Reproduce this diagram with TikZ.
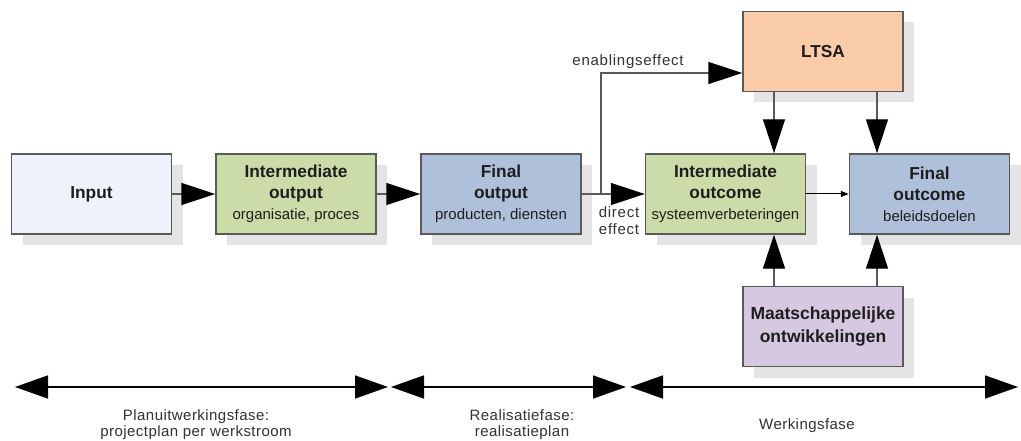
\documentclass[tikz,border=0pt]{standalone}
\usepackage{fontspec}
\setmainfont{Liberation Sans}
\newfontfamily\spacedfont[LetterSpace=3]{Liberation Sans}
\newfontfamily\widefont[LetterSpace=5]{Liberation Sans}
\usetikzlibrary{arrows.meta,shadows,positioning}
\definecolor{cinput}{RGB}{238,242,250}
\definecolor{cgreen}{RGB}{204,220,168}
\definecolor{cblue}{RGB}{175,193,218}
\definecolor{corange}{RGB}{249,203,167}
\definecolor{cpurple}{RGB}{213,200,224}
\definecolor{cshadow}{RGB}{228,228,228}
\definecolor{cborder}{RGB}{90,90,90}
\definecolor{ctext}{RGB}{30,30,30}
\definecolor{clabel}{RGB}{50,50,50}
\tikzset{
  boxnode/.style={draw=cborder, line width=1.4pt, minimum width=160pt, minimum height=80pt,
    inner sep=0pt, align=center, text=ctext,
    drop shadow={shadow xshift=11pt, shadow yshift=-11pt, fill=cshadow, opacity=1},
    font=\fontsize{17.3}{21}\selectfont\bfseries},
  subline/.style={},
  bigarrow/.style={draw=cborder, line width=1.4pt, -{Triangle[length=34pt,width=22pt,color=black]}},
  smallarrow/.style={draw=black, line width=1pt, -{Triangle[length=8pt,width=6pt]}},
  timeline/.style={draw=black, line width=1.4pt, {Triangle[length=33pt,width=23pt]}-{Triangle[length=33pt,width=23pt]}},
  phaselabel/.style={align=center, text=clabel, font=\fontsize{15}{15.5}\selectfont\spacedfont, inner sep=0pt},
  effectlabel/.style={align=center, text=clabel, font=\fontsize{15}{17}\selectfont\widefont, inner sep=0pt},
}
\newcommand{\subtxt}[1]{{\fontsize{15}{21}\selectfont\mdseries #1}}
\begin{document}
\begin{tikzpicture}[x=1pt,y=-1pt]
\useasboundingbox (0,0) rectangle (1021,441);
\node[boxnode, fill=cinput] (input) at (91.5,194) {Input};
\node[boxnode, fill=cgreen] (intout) at (296,194) {Intermediate\\output\\\subtxt{organisatie, proces}};
\node[boxnode, fill=cblue] (finout) at (501,194) {Final\\output\\\subtxt{producten, diensten}};
\node[boxnode, fill=cgreen] (intoc) at (725.5,194) {Intermediate\\outcome\\\subtxt{systeemverbeteringen}};
\node[boxnode, fill=cblue] (finoc) at (929.5,194) {Final\\outcome\\\subtxt{beleidsdoelen}};
\node[boxnode, fill=corange] (ltsa) at (823,51.5) {LTSA};
\node[boxnode, fill=cpurple, font=\fontsize{17.5}{23}\selectfont\bfseries] (maat) at (823,326.5) {Maatschappelijke\\ontwikkelingen};

\draw[bigarrow] (input) -- (intout);
\draw[bigarrow] (intout) -- (finout);
\draw[bigarrow] (finout) -- (intoc);
\coordinate (branch) at (601,194);
\coordinate (bend) at (601,73);
\coordinate (ltsain) at (ltsa.west |- bend);
\draw[bigarrow] (branch) -- (bend) -- (ltsain);
\draw[smallarrow] (intoc) -- (finoc);

\draw[bigarrow] (ltsa.south -| 774,0) -- (intoc.north -| 774,0);
\draw[bigarrow] (ltsa.south -| 877,0) -- (finoc.north -| 877,0);
\draw[bigarrow] (maat.north -| 774,0) -- (intoc.south -| 774,0);
\draw[bigarrow] (maat.north -| 877,0) -- (finoc.south -| 877,0);

\node[effectlabel] (enab) at (628,62) {enablingseffect};
\node[effectlabel] (direct) at (619,220.5) {direct\\effect};

\coordinate (t1a) at (15,387);
\coordinate (t1b) at (388,387);
\coordinate (t2a) at (391,387);
\coordinate (t2b) at (626,387);
\coordinate (t3a) at (630,387);
\coordinate (t3b) at (1018,387);
\draw[timeline] (t1a) -- (t1b);
\draw[timeline] (t2a) -- (t2b);
\draw[timeline] (t3a) -- (t3b);

\node[phaselabel] (ph1) at (196,424.5) {Planuitwerkingsfase:\\projectplan per werkstroom};
\node[phaselabel] (ph2) at (522,424.5) {Realisatiefase:\\realisatieplan};
\node[phaselabel] (ph3) at (807,426) {Werkingsfase};
\end{tikzpicture}
\end{document}
